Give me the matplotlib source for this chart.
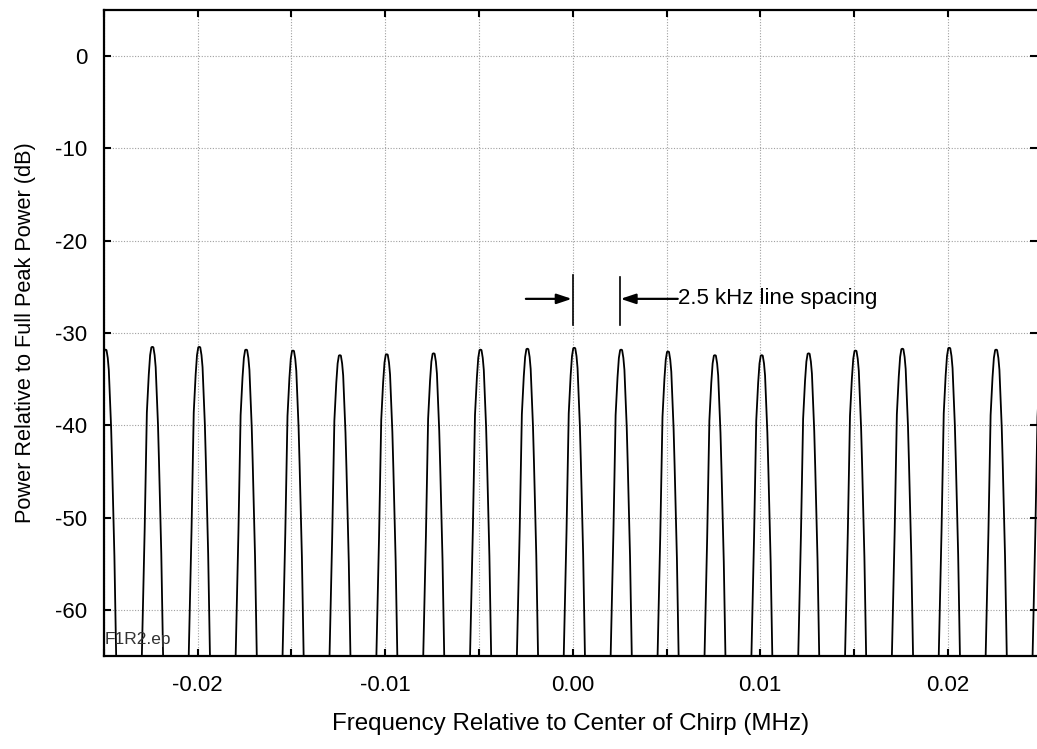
import numpy as np
import matplotlib
matplotlib.use("Agg")
import matplotlib.pyplot as plt
from matplotlib.ticker import MultipleLocator

# comb line centres (MHz) and their peak levels (dB)
line_freq = [-0.025, -0.0225, -0.02, -0.0175, -0.015, -0.0125, -0.01, -0.0075,
             -0.005, -0.0025, 0.0, 0.0025, 0.005, 0.0075, 0.01, 0.0125,
             0.015, 0.0175, 0.02, 0.0225, 0.025]
line_peak = [-31.8, -31.5, -31.5, -31.8, -31.9, -32.4, -32.3, -32.2,
             -31.8, -31.7, -31.6, -31.8, -32.0, -32.4, -32.4, -32.2,
             -31.9, -31.7, -31.6, -31.8, -32.0]

# measured line shape: offset from centre (MHz) and level below peak (dB)
shape_off = [-0.000507, -0.000475, -0.000331, -0.000214, -0.000112, -0.000040,
             0.000027, 0.000080, 0.000133, 0.000200, 0.000256, 0.000379,
             0.000433, 0.000555, 0.000646, 0.000678]
shape_db = [-36.0, -32.9, -19.8, -7.1, -3.0, -0.9, -0.05, 0.0, -0.05, -0.9,
            -2.2, -8.4, -12.4, -22.4, -32.9, -36.0]

plt.rcParams["font.family"] = ["Liberation Sans", "DejaVu Sans"]

fig = plt.figure(figsize=(10.37, 7.49), dpi=100)
ax = fig.add_axes([104 / 1037, 1 - 656 / 749, 1 - 104 / 1037, (656 - 10) / 749])

off = np.array(shape_off)
sdb = np.array(shape_db)
for f0, pk in zip(line_freq, line_peak):
    ax.plot(f0 + off, pk + sdb, color="black", lw=1.3)

ax.set_xlim(-0.0250, 0.02476)
ax.set_ylim(-65, 5)

ax.xaxis.set_minor_locator(MultipleLocator(0.005))
ax.set_xticks([-0.02, -0.01, 0.0, 0.01, 0.02])
ax.set_xticklabels(["-0.02", "-0.01", "0.00", "0.01", "0.02"])
ax.set_yticks([0, -10, -20, -30, -40, -50, -60])
ax.set_yticklabels(["0", "-10", "-20", "-30", "-40", "-50", "-60"])

ax.grid(True, which="both", axis="x", ls=(0, (1, 1.5)), color="#a0a0a0", lw=0.8)
ax.grid(True, which="major", axis="y", ls=(0, (1, 1.5)), color="#a0a0a0", lw=0.8)
ax.tick_params(which="both", direction="in", top=True, right=True,
               length=5, width=1.5, labelsize=16, colors="black")
ax.tick_params(axis="x", pad=14)
ax.tick_params(axis="y", pad=12)
for s in ("left", "top", "bottom"):
    ax.spines[s].set_linewidth(1.6)
ax.spines["right"].set_visible(False)

ax.set_xlabel("Frequency Relative to Center of Chirp (MHz)", fontsize=17.4, labelpad=12)
ax.set_ylabel("Power Relative to Full Peak Power (dB)", fontsize=15.7, labelpad=14)

# line spacing annotation
ax.plot([0.0, 0.0], [-23.7, -29.1], color="black", lw=1.2)
ax.plot([0.0025, 0.0025], [-23.9, -29.1], color="black", lw=1.2)
ax.annotate("", xy=(-0.00005, -26.3), xytext=(-0.0025, -26.3),
            arrowprops=dict(arrowstyle="-|>,head_length=0.9,head_width=0.3",
                            color="black", lw=1.6, shrinkA=0, shrinkB=0))
ax.annotate("", xy=(0.00255, -26.3), xytext=(0.0056, -26.3),
            arrowprops=dict(arrowstyle="-|>,head_length=0.9,head_width=0.3",
                            color="black", lw=1.6, shrinkA=0, shrinkB=0))
ax.text(0.0056, -26.3, "2.5 kHz line spacing", fontsize=16, va="center", ha="left")

ax.text(-0.02496, -63.2, "F1R2.ep", fontsize=12.5, color="#333333", va="center", ha="left")

fig.savefig("out.png", dpi=100)
